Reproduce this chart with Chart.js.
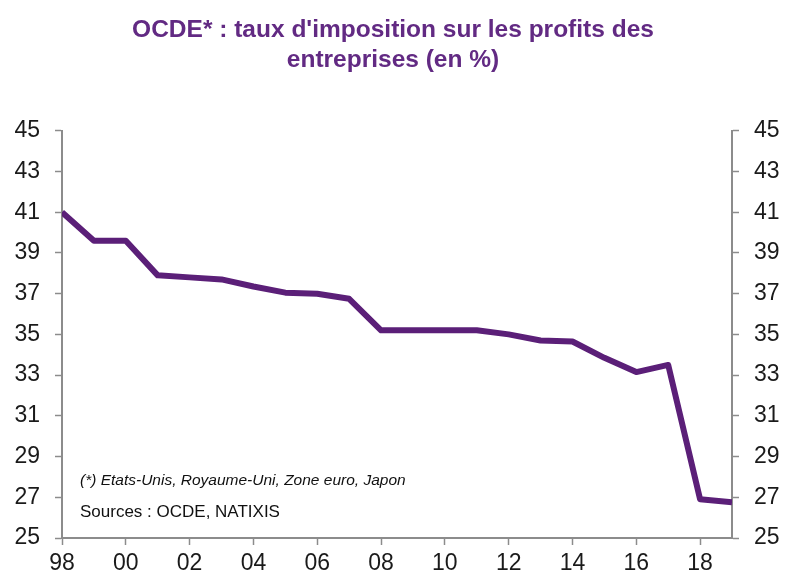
<!DOCTYPE html>
<html>
<head>
<meta charset="utf-8">
<script src="https://cdn.jsdelivr.net/npm/chart.js@4/dist/chart.umd.min.js"></script>
<style>
  html, body { margin: 0; padding: 0; background: #fff; }
  #wrap { width: 786px; height: 577px; position: relative; }
</style>
</head>
<body>
<div id="wrap"><canvas id="chart"></canvas></div>
<script>
// OCDE corporate tax rate, 1998-2019
const years = [1998, 1999, 2000, 2001, 2002, 2003, 2004, 2005, 2006, 2007, 2008,
  2009, 2010, 2011, 2012, 2013, 2014, 2015, 2016, 2017, 2018, 2019];
const taxRate = [41.0, 39.6, 39.6, 37.9, 37.8, 37.7, 37.35, 37.05, 37.0, 36.75, 35.2,
  35.2, 35.2, 35.2, 35.0, 34.7, 34.65, 33.85, 33.15, 33.5, 26.9, 26.75];
const xTicks = [1998, 2000, 2002, 2004, 2006, 2008, 2010, 2012, 2014, 2016, 2018];
const yTicks = [25, 27, 29, 31, 33, 35, 37, 39, 41, 43, 45];

const titleLines = ["OCDE* : taux d'imposition sur les profits des", 'entreprises (en %)'];
const noteLines = ['(*) Etats-Unis, Royaume-Uni, Zone euro, Japon', 'Sources : OCDE, NATIXIS'];

const PURPLE = '#5b1f78';
const TITLE_COLOR = '#622a83';
const AXIS_GREY = '#8c8c8c';
const SANS = '"Liberation Sans", Arial, sans-serif';

const notesPlugin = {
  id: 'notes',
  afterDatasetsDraw(chart) {
    const { ctx, chartArea } = chart;
    ctx.save();
    ctx.fillStyle = '#111';
    ctx.textBaseline = 'middle';
    ctx.textAlign = 'left';
    ctx.font = 'italic 15.5px ' + SANS;
    ctx.fillText(noteLines[0], chartArea.left + 18, chartArea.bottom - 57);
    ctx.font = '17px ' + SANS;
    ctx.fillText(noteLines[1], chartArea.left + 18, chartArea.bottom - 26);
    ctx.restore();
  }
};

function yAxis(position, width) {
  return {
    type: 'linear',
    position: position,
    min: 25,
    max: 45,
    afterBuildTicks: scale => { scale.ticks = yTicks.map(v => ({ value: v })); },
    afterFit: scale => { scale.width = width; },
    border: { display: true, color: AXIS_GREY, width: 2 },
    grid: { drawOnChartArea: false, color: AXIS_GREY, tickLength: 7, tickWidth: 1.5 },
    ticks: { color: '#1a1a1a', padding: 15, font: { family: SANS, size: 23 } }
  };
}

new Chart(document.getElementById('chart'), {
  type: 'line',
  data: {
    datasets: [{
      label: 'Taux',
      data: years.map((y, i) => ({ x: y, y: taxRate[i] })),
      borderColor: PURPLE,
      borderWidth: 6,
      pointRadius: 0,
      tension: 0,
      borderJoinStyle: 'round',
      borderCapStyle: 'butt'
    }]
  },
  options: {
    responsive: true,
    maintainAspectRatio: false,
    animation: false,
    layout: { padding: { top: 0, bottom: 0, left: 0, right: 0 } },
    plugins: {
      legend: { display: false },
      tooltip: { enabled: false },
      title: {
        display: true,
        text: titleLines,
        color: TITLE_COLOR,
        font: { family: SANS, size: 24.5, weight: 'bold', lineHeight: 1.22 },
        padding: { top: 15, bottom: 56 }
      }
    },
    scales: {
      x: {
        type: 'linear',
        min: 1998,
        max: 2019,
        afterBuildTicks: scale => { scale.ticks = xTicks.map(v => ({ value: v })); },
        afterFit: scale => { scale.height = 39; },
        border: { display: true, color: AXIS_GREY, width: 2 },
        grid: { drawOnChartArea: false, color: AXIS_GREY, tickLength: 7, tickWidth: 1.5 },
        ticks: {
          color: '#1a1a1a',
          padding: 5,
          maxRotation: 0,
          autoSkip: false,
          font: { family: SANS, size: 23 },
          callback: v => String(v % 100).padStart(2, '0')
        }
      },
      y: yAxis('left', 62),
      y2: yAxis('right', 54)
    }
  },
  plugins: [notesPlugin]
});
</script>
</body>
</html>
